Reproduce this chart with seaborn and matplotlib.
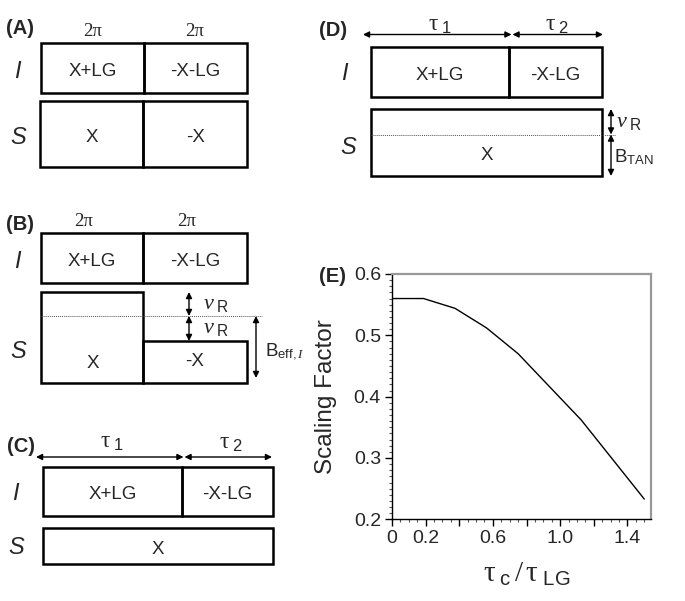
import matplotlib
matplotlib.use("Agg")
import matplotlib.pyplot as plt
import matplotlib.patches as mpatches
import matplotlib.ticker as mticker
import seaborn as sns

# panel E data
tau_ratio = [0.0, 0.1875, 0.375, 0.5625, 0.75, 1.125, 1.5]
scaling = [0.560, 0.560, 0.544, 0.512, 0.470, 0.362, 0.233]
x_ticks = [0.0, 0.2, 0.4, 0.6, 0.8, 1.0, 1.2, 1.4]
x_tick_labels = ["0", "0.2", "", "0.6", "", "1.0", "", "1.4"]
y_ticks = [0.2, 0.3, 0.4, 0.5, 0.6]
y_tick_labels = ["0.2", "0.3", "0.4", "0.5", "0.6"]

# pulse sequence labels
i_pulses = ["X+LG", "-X-LG"]
s_pulses = ["X", "-X"]
s_pulse_cw = "X"
phase_labels = ["2\u03c0", "2\u03c0"]
tau_labels = [r"$\mathrm{\tau}_{\ \mathsf{1}}$", r"$\mathrm{\tau}_{\ \mathsf{2}}$"]
panel_labels = ["(A)", "(B)", "(C)", "(D)", "(E)"]

sns.set_theme(style="ticks")
plt.rcParams["font.family"] = ["Liberation Sans", "DejaVu Sans"]
plt.rcParams["mathtext.fontset"] = "custom"
plt.rcParams["mathtext.rm"] = "Liberation Serif"
plt.rcParams["mathtext.it"] = "Liberation Serif:italic"
plt.rcParams["mathtext.sf"] = "Liberation Sans"

fig = plt.figure(figsize=(6.85, 6.01), dpi=100)
fig.patch.set_facecolor("white")

# canvas in pixel units for the diagrams
cv = fig.add_axes([0, 0, 1, 1])
cv.set_xlim(0, 685)
cv.set_ylim(601, 0)
cv.axis("off")

LW = 1.8
FS = 13.5
DY = 3  # text sits a little below the box centre


def label(x, y, s, **kw):
    cv.text(x, y + DY, s, ha="center", va="center", fontsize=FS, **kw)


def box(x0, x1, y0, y1, text=None):
    cv.add_patch(mpatches.Rectangle((x0, y0), x1 - x0, y1 - y0, fill=False,
                                    ec="black", lw=LW, joinstyle="miter"))
    if text:
        label((x0 + x1) / 2, (y0 + y1) / 2, text)


def row(x0, x1, y0, y1, split, texts):
    box(x0, split, y0, y1, texts[0])
    box(split, x1, y0, y1, texts[1])


def darrow(x0, y0, x1, y1):
    cv.annotate("", xy=(x1, y1), xytext=(x0, y0),
                arrowprops=dict(arrowstyle="<|-|>", lw=1.0, color="black",
                                mutation_scale=9, shrinkA=0, shrinkB=0))


def chan(x, y, s):
    cv.text(x, y, s, ha="center", va="center", fontsize=17, style="italic")


def panel(x, y, s):
    cv.text(x, y, s, ha="left", va="center", fontsize=14.5, fontweight="bold")


def phase(xc, y, s):
    cv.text(xc, y, s, ha="center", va="center", fontsize=13.5,
            family="Liberation Serif")


# (A)
panel(6, 29, panel_labels[0])
for xc, p in zip([93, 195], phase_labels):
    phase(xc, 32, p)
row(41, 247, 43, 93, 144, i_pulses)
row(40, 247, 101, 167, 143.5, s_pulses)
chan(17, 72, "I")
chan(18, 137, "S")

# (B)
panel(6, 224, panel_labels[1])
for xc, p in zip([84, 187], phase_labels):
    phase(xc, 222, p)
row(41, 247, 233, 283, 143.5, i_pulses)
box(41, 143.5, 292, 383)
box(143.5, 247, 341, 383)
label(93, 360, s_pulses[0])
label(195, 359, s_pulses[1])
cv.plot([40, 262], [316, 316], ls=(0, (1, 1)), lw=0.7, color="#555555")
darrow(189, 292, 189, 316)
darrow(189, 316, 189, 341)
darrow(256, 316, 256, 378)
cv.text(203, 303, r"$\nu_{\ \mathsf{R}}$", ha="left", va="center", fontsize=16)
cv.text(203, 328, r"$\nu_{\ \mathsf{R}}$", ha="left", va="center", fontsize=16)
cv.text(265, 352, r"B$_{\mathsf{eff,}\mathit{I}}$", ha="left", va="center",
        fontsize=FS)
chan(17, 262, "I")
chan(18, 351, "S")

# (C)
panel(7, 446, panel_labels[2])
darrow(36, 457, 183.5, 457)
darrow(184.5, 457, 272, 457)
cv.text(112, 442, tau_labels[0], ha="center", va="center", fontsize=17)
cv.text(231, 443, tau_labels[1], ha="center", va="center", fontsize=17)
row(43, 273, 467, 516, 182, i_pulses)
box(43, 273, 528, 564, s_pulse_cw)
chan(15, 494, "I")
chan(16, 548, "S")

# (D)
panel(319, 31, panel_labels[3])
darrow(363, 34.5, 511.5, 34.5)
darrow(512.5, 34.5, 603, 34.5)
cv.text(440, 25, tau_labels[0], ha="center", va="center", fontsize=17)
cv.text(557, 25, tau_labels[1], ha="center", va="center", fontsize=17)
row(371, 602, 47, 97, 509.5, i_pulses)
box(371, 602, 109, 176)
label(487, 152, s_pulse_cw)
cv.plot([371, 615], [134.5, 134.5], ls=(0, (1, 1)), lw=0.7, color="#555555")
darrow(611, 109, 611, 134.5)
darrow(611, 134.5, 611, 176)
cv.text(616, 122, r"$\nu_{\ \mathsf{R}}$", ha="left", va="center", fontsize=16)
cv.text(614, 157, r"B$_{\mathsf{TAN}}$", ha="left", va="center", fontsize=FS)
chan(344, 73, "I")
chan(348, 147, "S")

# (E)
panel(319, 277, panel_labels[4])
ax = fig.add_axes([392 / 685, 1 - 519.3 / 601, 259 / 685, 245.3 / 601])
sns.lineplot(x=tau_ratio, y=scaling, color="black", lw=1.0, ax=ax)
ax.set_xlim(0, 1.54)
ax.set_ylim(0.2, 0.6)
ax.set_xticks(x_ticks)
ax.set_xticklabels(x_tick_labels)
ax.set_yticks(y_ticks)
ax.set_yticklabels(y_tick_labels)
ax.xaxis.set_minor_locator(mticker.MultipleLocator(0.05))
ax.yaxis.set_minor_locator(mticker.MultipleLocator(0.01))
ax.tick_params(which="major", length=5, width=1, labelsize=14, pad=3,
               color="black")
ax.tick_params(which="minor", length=2.5, width=0.8, color="#555555")
for side in ["left", "bottom"]:
    ax.spines[side].set_color("black")
    ax.spines[side].set_linewidth(1.0)
for side in ["top", "right"]:
    ax.spines[side].set_visible(True)
    ax.spines[side].set_color("#999999")
    ax.spines[side].set_linewidth(1.6)
ax.set_ylabel("Scaling Factor", fontsize=17.5)
ax.yaxis.set_label_coords(-0.213, 0.5)
ax.set_xlabel(r"$\mathrm{\tau}_{\ \mathsf{c}}\,/\,\mathrm{\tau}_{\ \mathsf{LG}}$",
              fontsize=21)
ax.xaxis.set_label_coords(0.52, -0.165)

fig.savefig("out.png", dpi=100)
